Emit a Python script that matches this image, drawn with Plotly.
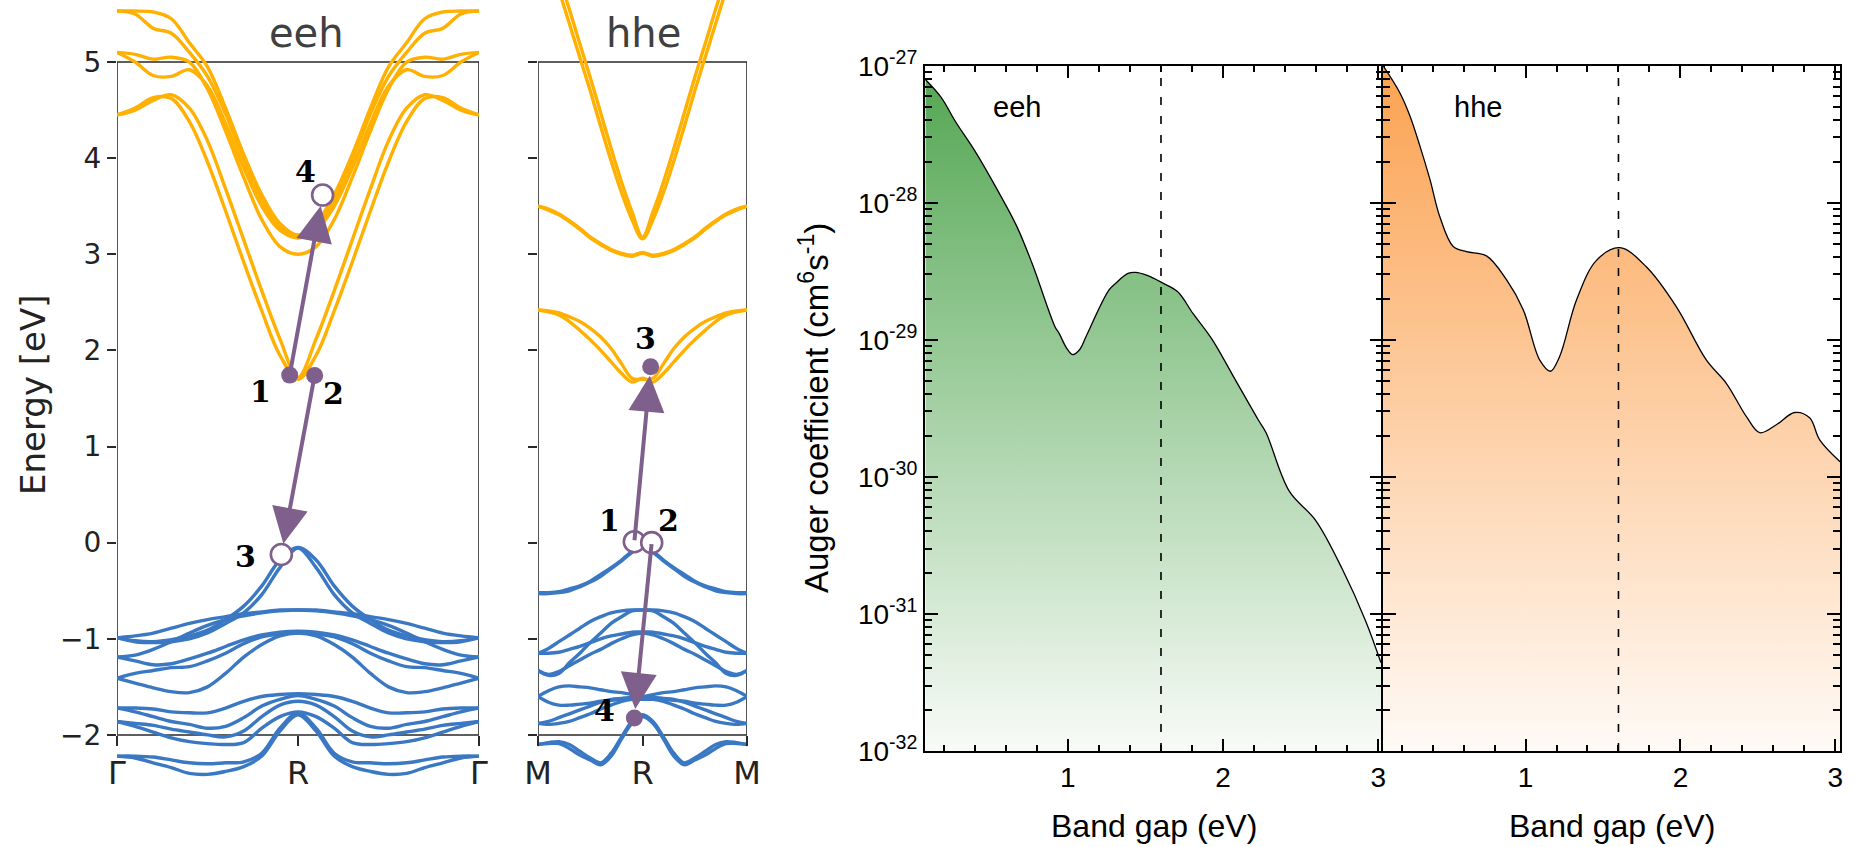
import math
import plotly.graph_objects as go

W, H = 1855, 847

# ---------------- band structures ----------------
# half path (Γ→R for eeh, M→R for hhe); the path is mirrored R→Γ / R→M
k_half = [0.0, 0.1, 0.2, 0.3, 0.4, 0.5, 0.6, 0.7, 0.8, 0.9, 1.0]

# eeh conduction bands (eV)
eeh_cb1 = [4.45, 4.52, 4.63, 4.62, 4.38, 3.96, 3.45, 2.92, 2.41, 1.95, 1.70]
eeh_cb2 = [4.45, 4.50, 4.60, 4.66, 4.52, 4.18, 3.68, 3.15, 2.62, 2.12, 1.72]
eeh_cb3 = [5.10, 5.08, 5.03, 5.05, 5.00, 4.72, 4.28, 3.80, 3.36, 3.08, 3.00]
eeh_cb4 = [5.10, 5.00, 4.86, 4.85, 4.92, 4.75, 4.36, 3.90, 3.50, 3.25, 3.17]
eeh_cb5 = [5.53, 5.53, 5.52, 5.45, 5.20, 4.95, 4.52, 4.04, 3.62, 3.32, 3.20]
eeh_cb6 = [5.53, 5.50, 5.35, 5.30, 5.10, 4.85, 4.46, 3.98, 3.56, 3.28, 3.18]
# eeh valence bands (eV)
eeh_vb1 = [-0.99, -1.02, -1.03, -1.01, -0.97, -0.91, -0.80, -0.66, -0.45, -0.18, -0.05]
eeh_vb2 = [-0.99, -1.03, -1.04, -1.03, -1.00, -0.94, -0.84, -0.73, -0.54, -0.26, -0.055]
eeh_vb3 = [-0.99, -0.97, -0.94, -0.89, -0.84, -0.80, -0.77, -0.74, -0.72, -0.70, -0.70]
eeh_vb4 = [-1.19, -1.17, -1.11, -1.03, -0.94, -0.86, -0.80, -0.76, -0.73, -0.71, -0.70]
eeh_vb5 = [-1.19, -1.23, -1.27, -1.26, -1.21, -1.15, -1.08, -1.01, -0.96, -0.93, -0.92]
eeh_vb6 = [-1.41, -1.36, -1.33, -1.30, -1.29, -1.23, -1.15, -1.05, -0.98, -0.95, -0.94]
eeh_vb7 = [-1.41, -1.46, -1.51, -1.55, -1.56, -1.50, -1.36, -1.19, -1.06, -0.97, -0.94]
eeh_vb8 = [-1.72, -1.72, -1.73, -1.76, -1.77, -1.77, -1.72, -1.65, -1.60, -1.58, -1.57]
eeh_vb9 = [-1.72, -1.76, -1.81, -1.86, -1.89, -1.93, -1.91, -1.82, -1.70, -1.63, -1.59]
eeh_vb10 = [-1.86, -1.88, -1.90, -1.94, -1.97, -2.00, -2.02, -1.96, -1.81, -1.69, -1.65]
eeh_vb11 = [-1.86, -1.91, -1.97, -2.03, -2.07, -2.09, -2.10, -2.08, -1.93, -1.81, -1.76]
eeh_vb12 = [-2.22, -2.22, -2.23, -2.26, -2.29, -2.30, -2.29, -2.28, -2.19, -1.93, -1.77]
eeh_vb13 = [-2.22, -2.24, -2.29, -2.34, -2.40, -2.41, -2.38, -2.33, -2.22, -1.96, -1.79]

# hhe conduction bands (eV)
hhe_cb1 = [None, None, 5.75, 5.40, 5.05, 4.70, 4.33, 3.97, 3.64, 3.36, 3.16]
hhe_cb2 = [None, None, 5.88, 5.55, 5.19, 4.84, 4.47, 4.10, 3.75, 3.44, 3.18]
hhe_cb3 = [3.50, 3.47, 3.42, 3.35, 3.27, 3.18, 3.11, 3.05, 3.01, 2.99, 3.02]
hhe_cb4 = [3.50, 3.46, 3.41, 3.34, 3.26, 3.17, 3.10, 3.04, 3.00, 2.98, 3.01]
hhe_cb5 = [2.42, 2.40, 2.37, 2.30, 2.21, 2.11, 2.00, 1.88, 1.76, 1.67, 1.71]
hhe_cb6 = [2.42, 2.41, 2.39, 2.35, 2.30, 2.23, 2.14, 2.02, 1.86, 1.71, 1.70]
# hhe valence bands (eV)
hhe_vb1 = [-0.52, -0.52, -0.51, -0.48, -0.45, -0.40, -0.33, -0.26, -0.18, -0.09, -0.03]
hhe_vb2 = [-0.53, -0.53, -0.52, -0.50, -0.46, -0.41, -0.35, -0.27, -0.19, -0.10, -0.04]
hhe_vb3 = [-1.15, -1.10, -1.03, -0.96, -0.89, -0.82, -0.77, -0.73, -0.71, -0.70, -0.70]
hhe_vb4 = [-1.33, -1.38, -1.36, -1.25, -1.15, -1.04, -0.94, -0.84, -0.77, -0.71, -0.70]
hhe_vb5 = [-1.15, -1.15, -1.14, -1.11, -1.08, -1.04, -1.00, -0.97, -0.95, -0.93, -0.93]
hhe_vb6 = [-1.33, -1.37, -1.34, -1.28, -1.22, -1.16, -1.11, -1.05, -1.00, -0.96, -0.94]
hhe_vb7 = [-1.60, -1.54, -1.50, -1.49, -1.50, -1.51, -1.53, -1.55, -1.56, -1.58, -1.60]
hhe_vb8 = [-1.60, -1.66, -1.69, -1.69, -1.68, -1.67, -1.65, -1.64, -1.63, -1.62, -1.61]
hhe_vb9 = [-1.88, -1.86, -1.82, -1.78, -1.74, -1.70, -1.66, -1.63, -1.62, -1.61, -1.61]
hhe_vb10 = [-1.88, -1.89, -1.88, -1.86, -1.82, -1.78, -1.73, -1.69, -1.65, -1.63, -1.63]
hhe_vb11 = [-2.10, -2.08, -2.07, -2.10, -2.17, -2.24, -2.29, -2.19, -2.02, -1.86, -1.79]
hhe_vb12 = [-2.10, -2.09, -2.09, -2.14, -2.21, -2.26, -2.31, -2.22, -2.04, -1.88, -1.81]

eeh_cb = [eeh_cb1, eeh_cb2, eeh_cb3, eeh_cb4, eeh_cb5, eeh_cb6]
eeh_vb = [eeh_vb1, eeh_vb2, eeh_vb3, eeh_vb4, eeh_vb5, eeh_vb6, eeh_vb7,
          eeh_vb8, eeh_vb9, eeh_vb10, eeh_vb11, eeh_vb12, eeh_vb13]
hhe_cb = [hhe_cb1, hhe_cb2, hhe_cb3, hhe_cb4, hhe_cb5, hhe_cb6]
hhe_vb = [hhe_vb1, hhe_vb2, hhe_vb3, hhe_vb4, hhe_vb5, hhe_vb6,
          hhe_vb7, hhe_vb8, hhe_vb9, hhe_vb10, hhe_vb11, hhe_vb12]

eeh_klabels = ["Γ", "R", "Γ"]
hhe_klabels = ["M", "R", "M"]
energy_ticks = [-2, -1, 0, 1, 2, 3, 4, 5]

# Auger transition states (k, E)
eeh_filled_k = [0.954, 1.092]
eeh_filled_E = [1.743, 1.740]
eeh_open_k = [1.136, 0.908]
eeh_open_E = [3.616, -0.123]
eeh_lab_k = [0.791, 1.197, 0.708, 1.040]
eeh_lab_E = [1.569, 1.553, -0.148, 3.860]
eeh_lab_t = ["1", "2", "3", "4"]

hhe_open_k = [0.922, 1.088]
hhe_open_E = [0.01, 0.0]
hhe_filled_k = [1.078, 0.922]
hhe_filled_E = [1.829, -1.823]
hhe_lab_k = [0.682, 1.247, 1.024, 0.641]
hhe_lab_E = [0.234, 0.234, 2.125, -1.743]
hhe_lab_t = ["1", "2", "3", "4"]

# ---------------- Auger coefficients (cm^6 s^-1) ----------------
eeh_gap = [0.084, 0.183, 0.277, 0.40, 0.548, 0.672, 0.77, 0.918, 0.943, 0.992, 1.03,
           1.077, 1.116, 1.264, 1.31, 1.388, 1.436, 1.511, 1.61, 1.708, 1.807, 1.931,
           2.079, 2.227, 2.277, 2.425, 2.597, 2.77, 2.918, 3.017]
eeh_auger = [7.9e-28, 5.9e-28, 3.9e-28, 2.4e-28, 1.23e-28, 6.7e-29, 3.6e-29, 1.24e-29,
             1.12e-29, 8.7e-30, 7.8e-30, 8.5e-30, 1.05e-29, 2.3e-29, 2.6e-29, 3.05e-29,
             3.1e-29, 2.95e-29, 2.6e-29, 2.24e-29, 1.55e-29, 1.0e-29, 5.1e-30, 2.6e-30,
             2.1e-30, 7.9e-31, 4.8e-31, 2.1e-31, 8.9e-32, 4.4e-32]
hhe_gap = [0.08, 0.19, 0.254, 0.318, 0.383, 0.447, 0.533, 0.619, 0.748, 0.877, 0.985,
           1.092, 1.161, 1.221, 1.329, 1.458, 1.608, 1.781, 1.974, 2.168, 2.297, 2.426,
           2.512, 2.619, 2.737, 2.834, 2.899, 3.03]
hhe_auger = [1.0e-27, 6.3e-28, 4.3e-28, 2.6e-28, 1.48e-28, 7.9e-29, 4.8e-29, 4.4e-29,
             4.1e-29, 2.75e-29, 1.66e-29, 7.1e-30, 5.9e-30, 7.6e-30, 1.95e-29, 3.8e-29,
             4.7e-29, 3.4e-29, 1.74e-29, 7.1e-30, 4.8e-30, 2.75e-30, 2.1e-30, 2.4e-30,
             2.95e-30, 2.7e-30, 1.86e-30, 1.29e-30]
optimal_gap = 1.6
auger_decades = [-32, -31, -30, -29, -28, -27]
auger_ticktext = ["10<sup>-32</sup>", "10<sup>-31</sup>", "10<sup>-30</sup>",
                  "10<sup>-29</sup>", "10<sup>-28</sup>", "10<sup>-27</sup>"]

# ---------------- styles ----------------
YELLOW = "#ffb000"
BLUE = "#3b78c3"
PURPLE = "#7f5f8b"
FRAME = "#2a2a2a"
TXT = "#222222"
SANS = "DejaVu Sans"
ARIAL = "Liberation Sans, Arial"

k_full = k_half + [2 - k for k in k_half[-2::-1]]


def mirror(vals):
    return vals + vals[-2::-1]


def lg(vals):
    return [math.log10(v) for v in vals]


# log scale drawn on a linear axis of log10 values (needed for the vertical gradient fill)
minor_log_ticks = [d + math.log10(m) for d in auger_decades[:-1] for m in range(2, 10)]
floor = auger_decades[0]

fig = go.Figure()

for xa, ya, cbs, vbs in [("x", "y", eeh_cb, eeh_vb), ("x2", "y2", hhe_cb, hhe_vb)]:
    for band in cbs:
        fig.add_trace(go.Scatter(x=k_full, y=mirror(band), mode="lines", xaxis=xa, yaxis=ya,
                                 line=dict(color=YELLOW, width=3.4, shape="spline"),
                                 connectgaps=False, hoverinfo="skip"))
    for band in vbs:
        fig.add_trace(go.Scatter(x=k_full, y=mirror(band), mode="lines", xaxis=xa, yaxis=ya,
                                 line=dict(color=BLUE, width=3.4, shape="spline"),
                                 hoverinfo="skip"))

# state markers
for xa, ya, fk, fe, ok, oe in [("x", "y", eeh_filled_k, eeh_filled_E, eeh_open_k, eeh_open_E),
                               ("x2", "y2", hhe_filled_k, hhe_filled_E, hhe_open_k, hhe_open_E)]:
    fig.add_trace(go.Scatter(x=fk, y=fe, mode="markers", xaxis=xa, yaxis=ya,
                             marker=dict(size=17, color=PURPLE, line=dict(width=0)),
                             hoverinfo="skip"))
    fig.add_trace(go.Scatter(x=ok, y=oe, mode="markers", xaxis=xa, yaxis=ya,
                             marker=dict(size=21, color="white", line=dict(width=2.6, color=PURPLE)),
                             hoverinfo="skip"))

# Auger coefficient curves with vertical gradient fills
for xa, ya, gx, gy, top_col, bot_col in [
        ("x3", "y3", eeh_gap, eeh_auger, "#52a652", "#f8fbf7"),
        ("x4", "y4", hhe_gap, hhe_auger, "#fba251", "#fffaf6")]:
    fig.add_trace(go.Scatter(x=[gx[0], gx[-1]], y=[floor, floor], mode="lines",
                             xaxis=xa, yaxis=ya, line=dict(width=0, color="rgba(0,0,0,0)"),
                             hoverinfo="skip"))
    fig.add_trace(go.Scatter(x=gx, y=lg(gy), mode="lines", xaxis=xa, yaxis=ya,
                             line=dict(color="black", width=1.3, shape="spline"),
                             fill="tonexty",
                             fillgradient=dict(type="vertical", start=floor,
                                               stop=auger_decades[-1],
                                               colorscale=[[0, bot_col], [1, top_col]]),
                             hoverinfo="skip"))

# ---------------- axes ----------------
band_y_top = 5 + 62 / 96.1
band_y_bot = -2.5
frame_pos = 1 - 735 / H

common_band_x = dict(range=[0, 2], showline=False, showgrid=False, zeroline=False,
                     anchor="free", position=frame_pos, ticks="outside", ticklen=10,
                     tickwidth=1.5, tickcolor=FRAME, tickvals=[0, 1, 2], automargin=False,
                     tickfont=dict(family=SANS, size=32, color=TXT), fixedrange=True)
common_band_y = dict(range=[band_y_bot, band_y_top], domain=[1 - 783 / H, 1],
                     showline=False, showgrid=False, zeroline=False, ticks="outside",
                     ticklen=9, tickwidth=1.5, tickcolor=FRAME, tickvals=energy_ticks,
                     automargin=False,
                     tickfont=dict(family=SANS, size=28, color=TXT), fixedrange=True)

auger_x = dict(range=[0.08, 3.03], showline=True, linewidth=2, linecolor="black",
               mirror="ticks", ticks="inside", ticklen=12, tickwidth=1.5, tickcolor="black",
               tickvals=[1, 2, 3], showgrid=False, zeroline=False, automargin=False,
               minor=dict(ticks="inside", ticklen=6, tickwidth=1.5, dtick=0.2, tick0=0,
                          tickcolor="black", showgrid=False),
               tickfont=dict(family=ARIAL, size=28, color="black"), fixedrange=True)
auger_y = dict(range=[auger_decades[0], auger_decades[-1]], domain=[1 - 751 / H, 1 - 65.7 / H],
               showline=True, linewidth=2, linecolor="black", mirror="ticks",
               ticks="inside", ticklen=13, tickwidth=1.5, tickcolor="black",
               tickvals=auger_decades, showgrid=False, zeroline=False, automargin=False,
               minor=dict(ticks="inside", ticklen=7, tickwidth=1.5, tickvals=minor_log_ticks,
                          tickcolor="black", showgrid=False),
               tickfont=dict(family=ARIAL, size=28, color="black"), fixedrange=True)

fig.update_layout(
    width=W, height=H, margin=dict(l=0, r=0, t=0, b=0, pad=0, autoexpand=False),
    paper_bgcolor="white", plot_bgcolor="rgba(0,0,0,0)", showlegend=False,
    xaxis=dict(common_band_x, domain=[117 / W, 479 / W], ticktext=eeh_klabels),
    yaxis=dict(common_band_y, anchor="x"),
    xaxis2=dict(common_band_x, domain=[538 / W, 747 / W], ticktext=hhe_klabels),
    yaxis2=dict(common_band_y, anchor="x2", showticklabels=False),
    xaxis3=dict(auger_x, domain=[925 / W, 1383 / W], anchor="y3"),
    yaxis3=dict(auger_y, anchor="x3", ticktext=auger_ticktext),
    xaxis4=dict(auger_x, domain=[1383 / W, 1840 / W], anchor="y4"),
    yaxis4=dict(auger_y, anchor="x4", showticklabels=False),
)

# frames for band panels
for xa, ya in [("x", "y"), ("x2", "y2")]:
    fig.add_shape(type="rect", xref=xa, yref=ya, x0=0, x1=2, y0=-2, y1=5,
                  line=dict(color=FRAME, width=1.6), layer="below")

# dashed optimal band gap lines
for xa, ya in [("x3", "y3"), ("x4", "y4")]:
    fig.add_shape(type="line", xref=xa, yref=ya + " domain", x0=optimal_gap, x1=optimal_gap,
                  y0=0, y1=1, line=dict(color="black", width=1.6, dash="8px,11px"))

# arrows (tail -> tip)
arrows = [("x", "y", eeh_filled_k[0], eeh_filled_E[0], eeh_open_k[0], eeh_open_E[0], 11),
          ("x", "y", eeh_filled_k[1], eeh_filled_E[1], eeh_open_k[1], eeh_open_E[1], 11),
          ("x2", "y2", hhe_open_k[0], hhe_open_E[0], hhe_filled_k[0], hhe_filled_E[0], 9),
          ("x2", "y2", hhe_open_k[1], hhe_open_E[1], hhe_filled_k[1], hhe_filled_E[1], 9)]
for xa, ya, tk, te, hk, he, so in arrows:
    fig.add_annotation(x=hk, y=he, ax=tk, ay=te, xref=xa, yref=ya, axref=xa, ayref=ya,
                       text="", showarrow=True, arrowhead=2, arrowsize=1.8, arrowwidth=4,
                       arrowcolor=PURPLE, standoff=so, startstandoff=0)

# state labels
for xa, ya, ks, es, ts in [("x", "y", eeh_lab_k, eeh_lab_E, eeh_lab_t),
                           ("x2", "y2", hhe_lab_k, hhe_lab_E, hhe_lab_t)]:
    for k, e, t in zip(ks, es, ts):
        fig.add_annotation(x=k, y=e, xref=xa, yref=ya, text=t, showarrow=False,
                           xanchor="center", yanchor="middle",
                           font=dict(family="DejaVu Serif", size=30, color="black",
                                     weight="bold"))


def paper_text(x_px, y_px, text, family, size, color, angle=0):
    fig.add_annotation(x=x_px / W, y=1 - y_px / H, xref="paper", yref="paper", text=text,
                       xanchor="center", yanchor="middle", textangle=angle,
                       showarrow=False, font=dict(family=family, size=size, color=color))


# panel titles and axis labels
paper_text(306, 33, "eeh", SANS, 40, "#404040")
paper_text(643, 33, "hhe", SANS, 40, "#404040")
paper_text(33, 395, "Energy [eV]", SANS, 34, TXT, -90)

paper_text(1017, 107, "eeh", ARIAL, 29, "black")
paper_text(1478, 107, "hhe", ARIAL, 29, "black")
paper_text(814, 408, "Auger coefficient (cm<sup>6</sup>s<sup>-1</sup>)", ARIAL, 33, "black", -90)
paper_text((925 + 1383) / 2, 826, "Band gap (eV)", ARIAL, 32, "black")
paper_text((1383 + 1840) / 2, 826, "Band gap (eV)", ARIAL, 32, "black")

fig.write_html("out.html")
